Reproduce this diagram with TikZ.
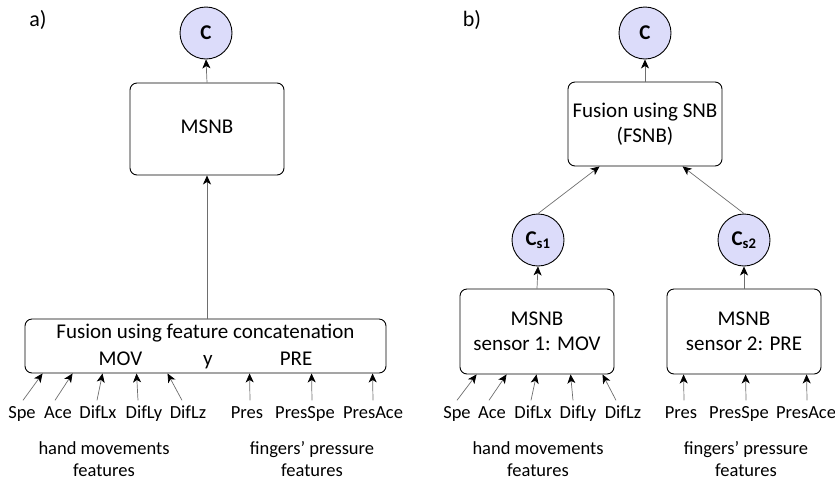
\documentclass[tikz,border=0pt]{standalone}
\usepackage{fontspec}
\setmainfont{Carlito}
\usetikzlibrary{arrows.meta}
\definecolor{cfill}{RGB}{220,220,250}
\definecolor{lgray}{RGB}{110,110,110}
\begin{document}
\begin{tikzpicture}[x=1pt,y=-1pt,
 box/.style={draw,line width=0.9pt,rounded corners=7pt,align=center,font=\fontsize{21}{25}\selectfont,inner sep=0pt},
 cls/.style={circle,draw,line width=0.9pt,fill=cfill,minimum size=52pt,inner sep=0pt,font=\fontsize{21}{24}\selectfont\bfseries},
 feat/.style={font=\fontsize{18.5}{22}\selectfont,inner xsep=0pt,inner ysep=5pt,text height=13pt,text depth=4pt},
 grp/.style={font=\fontsize{18.5}{22}\selectfont,align=center},
 arr/.style={draw=lgray,line width=0.7pt,-{Stealth[black,length=9pt,width=8pt,inset=2.5pt]}},
 lab/.style={font=\fontsize{22}{24}\selectfont}]
\useasboundingbox (0,0) rectangle (835,483);
% labels
\node[lab] (la) at (38,20) {a)};
\node[lab] (lb) at (472,20) {b)};
% panel a
\node[cls] (cA) at (206,33) {C};
\node[box,minimum width=154pt,minimum height=92pt] (msnbA) at (207,129) {\raisebox{4pt}{MSNB}};
\node[box,minimum width=361pt,minimum height=54pt,font=\fontsize{21}{27}\selectfont] (fusA) at (205.5,346) {Fusion using feature concatenation\\MOV\hspace{61pt}y\hspace{67pt}PRE};
\draw[arr] (msnbA.north) -- (cA.south);
\draw[arr] (fusA.north -| msnbA.south) -- (msnbA.south);
\node[feat] (aspe) at (22,414) {Spe};
\node[feat] (aace) at (58,414) {Ace};
\node[feat] (adlx) at (98,414) {DifLx};
\node[feat] (adly) at (144,414) {DifLy};
\node[feat] (adlz) at (188,414) {DifLz};
\node[feat] (apres) at (247,414) {Pres};
\node[feat] (apspe) at (305,414) {PresSpe};
\node[feat] (apace) at (373,414) {PresAce};
\draw[arr] ([xshift=1pt]aspe.north) -- ([xshift=18pt]fusA.south west);
\draw[arr] ([xshift=-3pt]aace.north) -- ([xshift=48pt]fusA.south west);
\draw[arr] ([xshift=-1pt]adlx.north) -- ([xshift=78pt]fusA.south west);
\draw[arr] ([xshift=-6pt]adly.north) -- ([xshift=112pt]fusA.south west);
\draw[arr] ([xshift=-6pt]adlz.north) -- ([xshift=143pt]fusA.south west);
\draw[arr] ([xshift=3pt]apres.north) -- ([xshift=225pt]fusA.south west);
\draw[arr] ([xshift=7pt]apspe.north) -- ([xshift=287pt]fusA.south west);
\draw[arr] (apace.north) -- ([xshift=348pt]fusA.south west);
\node[grp] (ga1) at (104,459) {hand movements\\features};
\node[grp] (ga2) at (312,459) {fingers’ pressure\\features};
% panel b
\node[cls] (cB) at (645,33) {C};
\node[box,minimum width=154pt,minimum height=84pt] (fsnb) at (645,124) {Fusion using SNB\\(FSNB)};
\draw[arr] (fsnb.north) -- (cB.south);
\node[cls] (cs1) at (538,240) {C\textsubscript{s1}};
\node[cls] (cs2) at (744,240) {C\textsubscript{s2}};
\draw[arr] (cs1.north) -- ([xshift=32pt]fsnb.south west);
\draw[arr] (cs2.north) -- ([xshift=115pt]fsnb.south west);
\node[box,minimum width=154pt,minimum height=85pt] (s1) at (537,331.5) {MSNB\\sensor 1: MOV};
\node[box,minimum width=154pt,minimum height=85pt] (s2) at (744,331.5) {MSNB\\sensor 2: PRE};
\draw[arr] (s1.north) -- (cs1.south);
\draw[arr] (s2.north) -- (cs2.south);
\node[feat] (bspe) at (457,414) {Spe};
\node[feat] (bace) at (492,414) {Ace};
\node[feat] (bdlx) at (533,414) {DifLx};
\node[feat] (bdly) at (578,414) {DifLy};
\node[feat] (bdlz) at (623,414) {DifLz};
\node[feat] (bpres) at (681,414) {Pres};
\node[feat] (bpspe) at (739,414) {PresSpe};
\node[feat] (bpace) at (806,414) {PresAce};
\draw[arr] (bspe.north) -- ([xshift=17pt]s1.south west);
\draw[arr] ([xshift=-3pt]bace.north) -- ([xshift=47pt]s1.south west);
\draw[arr] ([xshift=-2pt]bdlx.north) -- ([xshift=77pt]s1.south west);
\draw[arr] ([xshift=-5pt]bdly.north) -- ([xshift=111pt]s1.south west);
\draw[arr] ([xshift=-7pt]bdlz.north) -- ([xshift=143pt]s1.south west);
\draw[arr] ([xshift=3pt]bpres.north) -- ([xshift=17pt]s2.south west);
\draw[arr] ([xshift=7pt]bpspe.north) -- ([xshift=79pt]s2.south west);
\draw[arr] ([xshift=1pt]bpace.north) -- ([xshift=140pt]s2.south west);
\node[grp] (gb1) at (538,459) {hand movements\\features};
\node[grp] (gb2) at (746,459) {fingers’ pressure\\features};
\end{tikzpicture}
\end{document}
